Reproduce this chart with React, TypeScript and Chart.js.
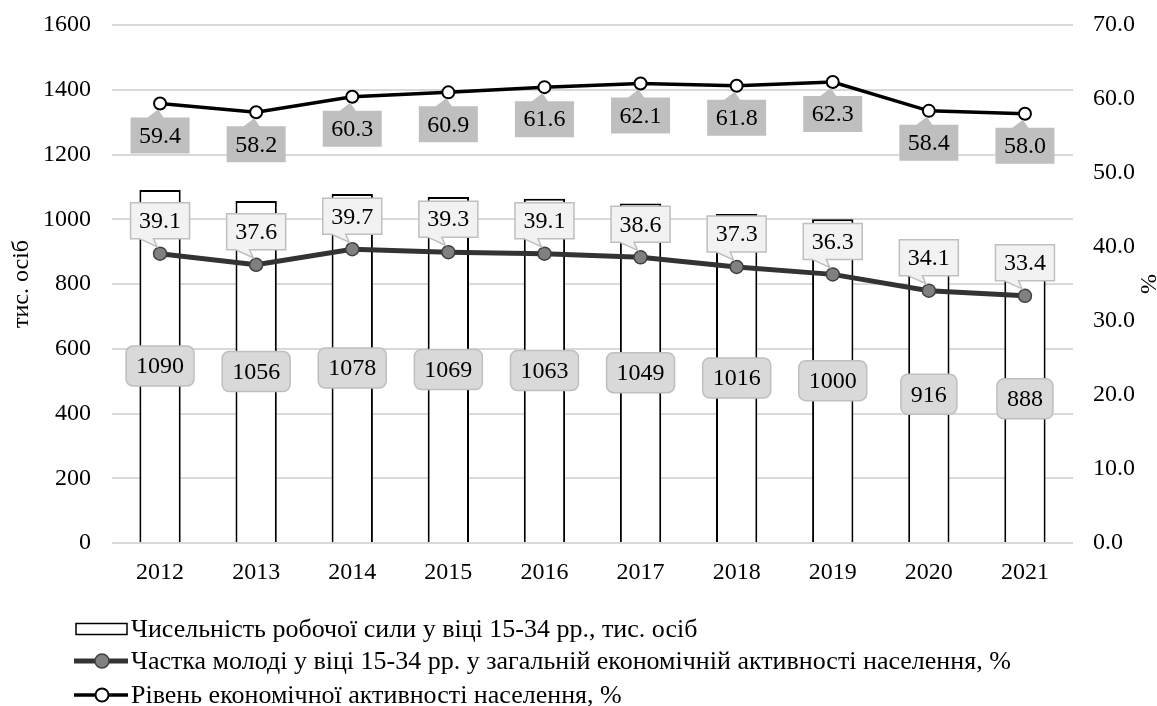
import React, { useEffect, useRef } from "react";
import { Chart, registerables } from "chart.js";

Chart.register(...registerables);

const years = ["2012", "2013", "2014", "2015", "2016", "2017", "2018", "2019", "2020", "2021"];
const laborForce = [1090, 1056, 1078, 1069, 1063, 1049, 1016, 1000, 916, 888];
const youthShare = [39.1, 37.6, 39.7, 39.3, 39.1, 38.6, 37.3, 36.3, 34.1, 33.4];
const activityRate = [59.4, 58.2, 60.3, 60.9, 61.6, 62.1, 61.8, 62.3, 58.4, 58.0];
const legendLabels = [
  "Чисельність робочої сили у віці 15-34 рр., тис. осіб",
  "Частка молоді у віці 15-34 рр. у загальній економічній активності населення, %",
  "Рівень економічної активності населення, %",
];
const leftTitle = "тис. осіб";
const rightTitle = "%";

const FONT = "'Liberation Serif', 'Times New Roman', serif";

function roundRectPath(ctx: CanvasRenderingContext2D, x: number, y: number, w: number, h: number, r: number) {
  ctx.beginPath();
  ctx.moveTo(x + r, y);
  ctx.lineTo(x + w - r, y);
  ctx.arcTo(x + w, y, x + w, y + r, r);
  ctx.lineTo(x + w, y + h - r);
  ctx.arcTo(x + w, y + h, x + w - r, y + h, r);
  ctx.lineTo(x + r, y + h);
  ctx.arcTo(x, y + h, x, y + h - r, r);
  ctx.lineTo(x, y + r);
  ctx.arcTo(x, y, x + r, y, r);
  ctx.closePath();
}

const labelPlugin = {
  id: "customLabels",
  afterDatasetsDraw(chart: any) {
    const ctx: CanvasRenderingContext2D = chart.ctx;
    ctx.save();
    ctx.font = `24px ${FONT}`;
    ctx.textAlign = "center";
    ctx.textBaseline = "middle";

    const barMeta = chart.getDatasetMeta(0);
    barMeta.data.forEach((el: any, i: number) => {
      const p = el.getProps(["x", "y", "base"], true);
      const cy = (p.y + p.base) / 2;
      const text = String(laborForce[i]);
      const w = ctx.measureText(text).width + 20;
      const h = 40;
      roundRectPath(ctx, p.x - w / 2, cy - h / 2, w, h, 7);
      ctx.fillStyle = "#d9d9d9";
      ctx.fill();
      ctx.lineWidth = 1.5;
      ctx.strokeStyle = "#bfbfbf";
      ctx.stroke();
      ctx.fillStyle = "#000";
      ctx.fillText(text, p.x, cy + 1);
    });

    const m1 = chart.getDatasetMeta(1);
    m1.data.forEach((el: any, i: number) => {
      const p = el.getProps(["x", "y"], true);
      const text = youthShare[i].toFixed(1);
      const w = ctx.measureText(text).width + 17;
      const h = 36;
      const cx = p.x;
      const cy = p.y - 33;
      const l = cx - w / 2;
      const t = cy - h / 2;
      const b = cy + h / 2;
      ctx.beginPath();
      ctx.moveTo(l, t);
      ctx.lineTo(l + w, t);
      ctx.lineTo(l + w, b);
      ctx.lineTo(l + 23, b);
      ctx.lineTo(p.x - 3, p.y - 7);
      ctx.lineTo(l + 9, b);
      ctx.lineTo(l, b);
      ctx.closePath();
      ctx.fillStyle = "#f2f2f2";
      ctx.fill();
      ctx.lineWidth = 1.5;
      ctx.strokeStyle = "#bfbfbf";
      ctx.stroke();
      ctx.fillStyle = "#000";
      ctx.fillText(text, cx, cy + 1);
    });

    const m2 = chart.getDatasetMeta(2);
    m2.data.forEach((el: any, i: number) => {
      const p = el.getProps(["x", "y"], true);
      const text = activityRate[i].toFixed(1);
      const w = ctx.measureText(text).width + 17;
      const h = 36;
      const cx = p.x;
      const cy = p.y + 32;
      const l = cx - w / 2;
      const t = cy - h / 2;
      const b = cy + h / 2;
      ctx.beginPath();
      ctx.moveTo(l, t);
      ctx.lineTo(l + 17, t);
      ctx.lineTo(p.x - 2, p.y + 6);
      ctx.lineTo(l + 33, t);
      ctx.lineTo(l + w, t);
      ctx.lineTo(l + w, b);
      ctx.lineTo(l, b);
      ctx.closePath();
      ctx.fillStyle = "#bfbfbf";
      ctx.fill();
      ctx.fillStyle = "#000";
      ctx.fillText(text, cx, cy + 1);
    });
    ctx.restore();
  },
  afterDraw(chart: any) {
    const ctx: CanvasRenderingContext2D = chart.ctx;
    ctx.save();
    ctx.font = `26px ${FONT}`;
    ctx.textAlign = "left";
    ctx.textBaseline = "middle";
    const rows = [629, 661, 695];
    const x0 = 74;
    const x1 = 128;
    const tx = 131;

    ctx.fillStyle = "#fff";
    ctx.fillRect(76, rows[0] - 5.5, 51, 11);
    ctx.lineWidth = 1.5;
    ctx.strokeStyle = "#000";
    ctx.strokeRect(76, rows[0] - 5.5, 51, 11);

    ctx.beginPath();
    ctx.moveTo(x0, rows[1]);
    ctx.lineTo(x1, rows[1]);
    ctx.lineWidth = 5;
    ctx.strokeStyle = "#333";
    ctx.stroke();
    ctx.beginPath();
    ctx.arc(102, rows[1], 7, 0, Math.PI * 2);
    ctx.fillStyle = "#808080";
    ctx.fill();
    ctx.lineWidth = 1.5;
    ctx.strokeStyle = "#404040";
    ctx.stroke();

    ctx.beginPath();
    ctx.moveTo(x0, rows[2]);
    ctx.lineTo(x1, rows[2]);
    ctx.lineWidth = 3.5;
    ctx.strokeStyle = "#000";
    ctx.stroke();
    ctx.beginPath();
    ctx.arc(102, rows[2], 6.5, 0, Math.PI * 2);
    ctx.fillStyle = "#fff";
    ctx.fill();
    ctx.lineWidth = 2;
    ctx.strokeStyle = "#000";
    ctx.stroke();

    ctx.fillStyle = "#000";
    legendLabels.forEach((t, i) => ctx.fillText(t, tx, rows[i] + 1));
    ctx.restore();
  },
};

export default function App() {
  const ref = useRef<HTMLCanvasElement | null>(null);
  useEffect(() => {
    if (!ref.current) return;
    const tickFont = { family: FONT, size: 24 };
    const chart = new Chart(ref.current, {
      type: "bar",
      data: {
        labels: years,
        datasets: [
          {
            type: "bar",
            label: legendLabels[0],
            data: laborForce,
            yAxisID: "y",
            backgroundColor: "#ffffff",
            borderColor: "#000000",
            borderWidth: 2,
            barPercentage: 0.43,
            categoryPercentage: 1,
            order: 3,
          },
          {
            type: "line",
            label: legendLabels[1],
            data: youthShare,
            yAxisID: "y1",
            borderColor: "#333333",
            borderWidth: 5,
            pointRadius: 6.5,
            pointBackgroundColor: "#808080",
            pointBorderColor: "#404040",
            pointBorderWidth: 1.5,
            tension: 0,
            order: 2,
          },
          {
            type: "line",
            label: legendLabels[2],
            data: activityRate,
            yAxisID: "y1",
            borderColor: "#000000",
            borderWidth: 3.5,
            pointRadius: 6,
            pointBackgroundColor: "#ffffff",
            pointBorderColor: "#000000",
            pointBorderWidth: 2,
            tension: 0,
            order: 1,
          },
        ] as any,
      },
      options: {
        animation: false,
        responsive: true,
        maintainAspectRatio: false,
        layout: { padding: { top: 25, left: 0, right: 0, bottom: 0 } },
        plugins: { legend: { display: false }, tooltip: { enabled: false } },
        scales: {
          x: {
            grid: { display: false },
            border: { display: false },
            ticks: { font: tickFont, color: "#000", padding: 7, maxRotation: 0 },
            afterFit(s: any) {
              s.height = 163;
              s.paddingLeft = 0;
              s.paddingRight = 0;
            },
          },
          y: {
            position: "left",
            min: 0,
            max: 1600,
            ticks: {
              stepSize: 200,
              font: tickFont,
              color: "#000",
              padding: 21,
              callback: (v: any) => String(v),
            },
            grid: { color: "#d9d9d9", lineWidth: 2, drawTicks: false },
            border: { display: false },
            title: {
              display: true,
              text: leftTitle,
              color: "#000",
              font: { family: FONT, size: 24, lineHeight: 0.8 },
              padding: { top: 12.4, bottom: 0 },
            },
            afterFit(s: any) {
              s.width = 112;
              s.paddingTop = 0;
              s.paddingBottom = 0;
            },
          },
          y1: {
            position: "right",
            min: 0,
            max: 70,
            ticks: {
              stepSize: 10,
              font: tickFont,
              color: "#000",
              padding: 20,
              callback: (v: any) => Number(v).toFixed(1),
            },
            grid: { display: false, drawTicks: false },
            border: { display: false },
            title: {
              display: true,
              text: rightTitle,
              color: "#000",
              font: { family: FONT, size: 24, lineHeight: 0.8 },
              padding: { top: 0.5, bottom: 0 },
            },
            afterFit(s: any) {
              s.width = 84;
              s.paddingTop = 0;
              s.paddingBottom = 0;
            },
          },
        },
      } as any,
      plugins: [labelPlugin],
    });
    return () => chart.destroy();
  }, []);
  return (
    <div style={{ position: "fixed", left: 0, top: 0, width: 1157, height: 706, background: "#fff" }}>
      <canvas ref={ref} />
    </div>
  );
}
